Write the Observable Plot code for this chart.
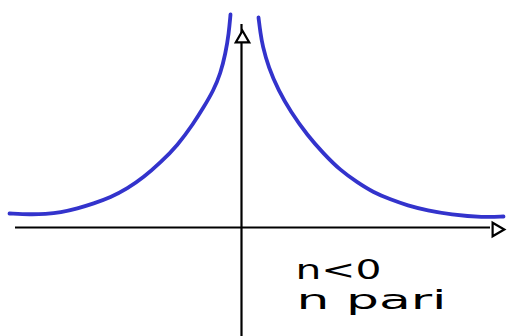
<!DOCTYPE html>
<html>
<head>
<meta charset="utf-8">
<script src="https://cdn.jsdelivr.net/npm/d3@7"></script>
<script src="https://cdn.jsdelivr.net/npm/@observablehq/plot@0.6"></script>
<style>
  html, body { margin: 0; padding: 0; background: #fff; }
  #chart svg { display: block; }
</style>
</head>
<body>
<div id="chart"></div>
<script>
// Sketch of y = x^n with n < 0 and n even: two branches, vertical asymptote x = 0,
// horizontal asymptote y = 0.

// Right branch (x > 0)
const rightX = [0.85, 0.95, 1.05, 1.35, 1.85, 2.45, 3.3, 4.1, 4.95, 5.8, 6.6, 7.45, 8.3, 9.3, 10.45, 12.1, 13.1];
const rightY = [10.5, 9.7, 9.1, 8.0, 6.85, 5.8, 4.6, 3.7, 2.85, 2.25, 1.75, 1.4, 1.1, 0.85, 0.65, 0.5, 0.55];

// Left branch (x < 0)
const leftX = [-0.55, -0.635, -0.8, -1.05, -1.4, -1.9, -2.4, -3.2, -4.05, -4.9, -5.7, -6.55, -7.4, -8.2, -9.05, -9.8, -10.55, -11.6];
const leftY = [10.65, 9.7, 8.7, 7.7, 6.85, 6.0, 5.2, 4.1, 3.25, 2.5, 1.95, 1.5, 1.2, 0.95, 0.75, 0.675, 0.65, 0.7];

// Axis extents
const xAxisFrom = -11.3, xAxisTo = 12.45;
const yAxisFrom = -5.45, yAxisTo = 10.15;
// Arrow tips
const arrowX = {x: 12.75, y: -0.1};
const arrowY = {x: 0.05, y: 9.45};

// Annotations
const labels = ["n<0", "n pari"];
const labelX = [2.7, 2.75];
const labelY = [-2.12, -3.62];
const labelWidths = [86, 150];

const right = rightX.map((x, i) => ({x, y: rightY[i]}));
const left = leftX.map((x, i) => ({x, y: leftY[i]}));
const notes = labels.map((t, i) => ({t, x: labelX[i], y: labelY[i]}));

const chart = Plot.plot({
  width: 510,
  height: 336,
  margin: 0,
  x: {domain: [-12.05, 13.45], axis: null},
  y: {domain: [-5.45, 11.35], axis: null},
  style: {background: "#fff"},
  marks: [
    Plot.ruleY([0], {x1: xAxisFrom, x2: xAxisTo, stroke: "#000", strokeWidth: 2.2}),
    Plot.ruleX([0], {y1: yAxisFrom, y2: yAxisTo, stroke: "#000", strokeWidth: 2.2}),
    Plot.dot([arrowY], {x: "x", y: "y", symbol: "triangle", r: 5, fill: "#fff", stroke: "#000", strokeWidth: 2.2}),
    Plot.dot([arrowX], {x: "x", y: "y", symbol: "triangle", r: 5, rotate: 90, fill: "#fff", stroke: "#000", strokeWidth: 2.2}),
    Plot.line(right, {x: "x", y: "y", curve: "basis", stroke: "#3333cc", strokeWidth: 3.8, strokeLinecap: "round"}),
    Plot.line(left, {x: "x", y: "y", curve: "basis", stroke: "#3333cc", strokeWidth: 3.8, strokeLinecap: "round"}),
    Plot.text(notes, {x: "x", y: "y", text: "t", textAnchor: "start", fontSize: 27,
      fontFamily: "DejaVu Sans", fill: "#000", className: "note"})
  ]
});

// Widen the handwritten-style annotations
d3.select(chart).selectAll(".note text").each(function(d, i) {
  d3.select(this).attr("textLength", labelWidths[i]).attr("lengthAdjust", "spacingAndGlyphs");
});

document.getElementById("chart").append(chart);
</script>
</body>
</html>
